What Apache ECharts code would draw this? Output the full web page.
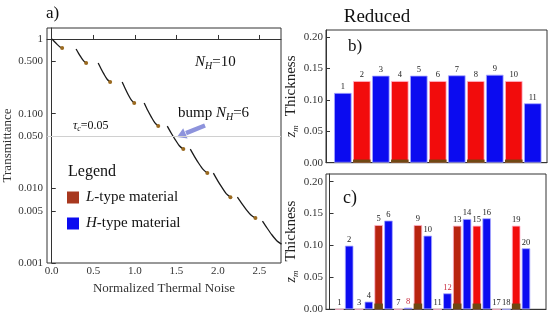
<!DOCTYPE html>
<html><head><meta charset="utf-8">
<script src="https://cdn.jsdelivr.net/npm/echarts@6/dist/echarts.min.js"></script>
<style>html,body{margin:0;padding:0;background:#fff}#c{width:550px;height:321px}</style>
</head><body><div id="c"></div>
<script>
const FONT = '"Liberation Serif", "DejaVu Serif", serif';

// ---- panel a) : transmittance vs normalized thermal noise, one list per curve segment
const segNoise = [
  [0.004, 0.034, 0.065, 0.095, 0.125],
  [0.293, 0.323, 0.354, 0.384, 0.414],
  [0.559, 0.595, 0.631, 0.667, 0.703],
  [0.848, 0.884, 0.921, 0.957, 0.993],
  [1.113, 1.155, 1.198, 1.240, 1.282],
  [1.391, 1.439, 1.488, 1.536, 1.584],
  [1.668, 1.719, 1.771, 1.822, 1.873],
  [1.946, 1.997, 2.049, 2.100, 2.151],
  [2.235, 2.289, 2.344, 2.398, 2.452],
  [2.537, 2.594, 2.652, 2.709, 2.766]
];
const segTrans = [
  [1.0, 0.917, 0.846, 0.789, 0.757],
  [0.734, 0.643, 0.566, 0.508, 0.476],
  [0.476, 0.397, 0.335, 0.289, 0.265],
  [0.265, 0.217, 0.179, 0.153, 0.139],
  [0.139, 0.111, 0.0906, 0.0759, 0.0682],
  [0.0682, 0.0547, 0.0446, 0.0372, 0.0335],
  [0.0335, 0.0266, 0.0215, 0.0179, 0.0160],
  [0.0160, 0.0127, 0.0103, 0.00851, 0.00762],
  [0.00762, 0.00624, 0.00516, 0.00440, 0.00399],
  [0.00363, 0.00292, 0.00237, 0.00199, 0.00179]
];
const tauC = 0.05;
const xTicksA = [0, 0.5, 1.0, 1.5, 2.0, 2.5];
const yTicksA = [0.001, 0.005, 0.01, 0.05, 0.1, 0.5, 1];
const yTickLabelsA = ['0.001', '0.005', '0.010', '0.050', '0.100', '0.500', '1'];

// ---- panel b) : reduced stack
const layersB = [1, 2, 3, 4, 5, 6, 7, 8, 9, 10, 11];
const thickB = [0.111, 0.130, 0.1385, 0.130, 0.1385, 0.130, 0.139, 0.130, 0.140, 0.130, 0.0945];
const typeB = ['H', 'L', 'H', 'L', 'H', 'L', 'H', 'L', 'H', 'L', 'H'];
const baseB = 0.005;

// ---- panel c)
const layersC = [1, 2, 3, 4, 5, 6, 7, 8, 9, 10, 11, 12, 13, 14, 15, 16, 17, 18, 19, 20];
const thickC = [0, 0.0997, 0, 0.012, 0.132, 0.139, 0, 0.0025, 0.132, 0.1154, 0, 0.025, 0.131, 0.1415, 0.131, 0.1426, 0, 0, 0.131, 0.0956];
const typeC = ['L', 'H', 'L', 'H', 'L', 'H', 'L', 'H', 'L', 'H', 'L', 'H', 'L', 'H', 'L', 'H', 'L', 'H', 'L', 'H'];
const baseC = 0.009;
const darkRedC = [5, 9, 13];
const redLabelC = [8, 12];

const thickTicks = [0, 0.05, 0.10, 0.15, 0.20];
const thickTickLabels = ['0.00', '0.05', '0.10', '0.15', '0.20'];

// ---- colours
const C_H = '#0b0bf0';
const C_L = '#f20c0c';
const C_LDARK = '#b8240f';
const C_BASE = '#6e4812';
const C_LEG_L = '#a8381f';
const AX = '#333';

const yTicksLog = yTicksA.map(v => Math.log10(v));

const lineSeries = segNoise.map((xs, k) => ({
  type: 'line', xAxisIndex: 0, yAxisIndex: 0, silent: true, clip: true,
  smooth: 0.25, showSymbol: true, showAllSymbol: true, symbol: 'circle', symbolSize: 4,
  lineStyle: { color: '#1a1a1a', width: 1.3 },
  itemStyle: { color: '#9a6a20' },
  data: xs.map((x, i) => {
    const p = [x, Math.log10(segTrans[k][i])];
    return i === xs.length - 1 ? { value: p } : { value: p, symbol: 'none' };
  }),
  markLine: k === 0 ? {
    silent: true, symbol: 'none', label: { show: false },
    lineStyle: { color: '#d0d0d0', width: 1, type: 'solid' },
    data: [{ yAxis: Math.log10(tauC) }]
  } : undefined
}));

function barSeries(grid, layers, thick, types, want, opts) {
  const data = [];
  layers.forEach((n, i) => {
    if (types[i] !== want) return;
    const item = { value: [n, thick[i]] };
    if (opts.dark && opts.dark.includes(n)) item.itemStyle = { color: C_LDARK };
    if (opts.redLabel && opts.redLabel.includes(n)) item.label = { color: '#c8283c' };
    data.push(item);
  });
  return {
    type: 'bar', name: want === 'H' ? 'H-type material' : 'L-type material',
    xAxisIndex: grid, yAxisIndex: grid, barWidth: opts.width, barGap: '-100%', silent: true,
    itemStyle: { color: want === 'H' ? C_H : C_L, borderColor: want === 'H' ? '#a8a8ff' : '#ffb4cc', borderWidth: 0.8 },
    label: { show: true, position: 'top', distance: 1.5, fontFamily: FONT, fontSize: 8.5, color: '#222',
      formatter: p => String(p.value[0]) },
    data
  };
}
function baseSeries(grid, layers, thick, types, h, width) {
  const data = [];
  layers.forEach((n, i) => { if (types[i] === 'L' && thick[i] > 0) data.push([n, h]); });
  return { type: 'bar', xAxisIndex: grid, yAxisIndex: grid, barWidth: width, barGap: '-100%', silent: true,
    itemStyle: { color: C_BASE }, data };
}

const tickLab = (vals, labels) => v => {
  const i = vals.findIndex(t => Math.abs(t - v) < 1e-6);
  return i >= 0 ? labels[i] : '';
};

const frame = { show: true, borderColor: AX, borderWidth: 1, containLabel: false, outerBoundsMode: 'none' };

function thickYAxis(grid, max) {
  return {
    gridIndex: grid, type: 'value', min: 0, max: max,
    name: '{z|z}{m|m}{g| }{t|Thickness}', nameLocation: 'middle', nameGap: 23,
    nameTextStyle: { rich: {
      z: { fontFamily: FONT, fontStyle: 'italic', fontSize: 14, color: '#222', lineHeight: 18 },
      m: { fontFamily: FONT, fontStyle: 'italic', fontSize: 9, color: '#222', verticalAlign: 'bottom', lineHeight: 9 },
      g: { width: 9, fontSize: 10 },
      t: { fontFamily: FONT, fontSize: 15, color: '#222', lineHeight: 18 }
    } },
    axisLine: { show: true, lineStyle: { color: AX } },
    axisTick: { show: true, inside: true, length: 4, customValues: thickTicks, lineStyle: { color: AX } },
    axisLabel: { customValues: thickTicks, formatter: tickLab(thickTicks, thickTickLabels),
      fontFamily: FONT, fontSize: 11, color: '#333', margin: 3 },
    splitLine: { show: false }
  };
}
function barXAxis(grid, min, max) {
  return { gridIndex: grid, type: 'value', min, max,
    axisLine: { show: true, lineStyle: { color: AX } }, axisTick: { show: false },
    axisLabel: { show: false }, splitLine: { show: false } };
}

const option = {
  animation: false,
  backgroundColor: '#fff',
  textStyle: { fontFamily: FONT },
  grid: [
    Object.assign({ left: 47, top: 28, width: 234, height: 235 }, frame),
    Object.assign({ left: 326, top: 30, width: 221, height: 132.7 }, frame),
    Object.assign({ left: 326, top: 174, width: 220, height: 135.3 }, frame)
  ],
  xAxis: [
    { gridIndex: 0, type: 'value', min: -0.057, max: 2.76,
      name: 'Normalized Thermal Noise', nameLocation: 'middle', nameGap: 17,
      nameTextStyle: { fontFamily: FONT, fontSize: 13, color: '#333' },
      axisLine: { show: true, lineStyle: { color: AX } },
      axisTick: { show: true, inside: true, length: 4, customValues: xTicksA, lineStyle: { color: AX } },
      axisLabel: { customValues: xTicksA, formatter: v => v.toFixed(1), fontFamily: FONT, fontSize: 11, color: '#333', margin: 3 },
      splitLine: { show: false } },
    barXAxis(1, 0.115, 11.75),
    barXAxis(2, -0.36, 22.04)
  ],
  yAxis: [
    { gridIndex: 0, type: 'value', min: -3, max: 0.147,
      name: 'Transmittance', nameLocation: 'middle', nameGap: 27,
      nameTextStyle: { fontFamily: FONT, fontSize: 13, color: '#333' },
      axisLine: { show: true, lineStyle: { color: AX } },
      axisTick: { show: true, inside: true, length: 4, customValues: yTicksLog, lineStyle: { color: AX } },
      axisLabel: { customValues: yTicksLog, formatter: tickLab(yTicksLog, yTickLabelsA), fontFamily: FONT, fontSize: 11, color: '#333', margin: 4 },
      splitLine: { show: false } },
    thickYAxis(1, 0.2112),
    thickYAxis(2, 0.212)
  ],
  legend: {
    orient: 'vertical', left: 67, top: 190, padding: 0, itemWidth: 12, itemHeight: 12, itemGap: 11,
    selectedMode: false, icon: 'rect',
    data: [
      { name: 'L-type material', itemStyle: { color: C_LEG_L, borderWidth: 0 } },
      { name: 'H-type material', itemStyle: { color: C_H, borderWidth: 0 } }
    ],
    formatter: n => (n.startsWith('L') ? '{i|L}' : '{i|H}') + '{t|-type material}',
    textStyle: { padding: [0, 0, 0, 2], rich: {
      i: { fontFamily: FONT, fontStyle: 'italic', fontSize: 15, color: '#111', lineHeight: 18 },
      t: { fontFamily: FONT, fontSize: 15, color: '#111', lineHeight: 18 }
    } }
  },
  graphic: [
    { type: 'text', x: 46, y: 14, silent: true, style: { text: 'a)', font: '17px ' + FONT, fill: '#111', verticalAlign: 'middle' } },
    { type: 'text', x: 377, y: 17, silent: true, style: { text: 'Reduced', font: '19px ' + FONT, fill: '#111', align: 'center', verticalAlign: 'middle' } },
    { type: 'text', x: 348, y: 47, silent: true, style: { text: 'b)', font: '17px ' + FONT, fill: '#111', verticalAlign: 'middle' } },
    { type: 'text', x: 343, y: 198, silent: true, style: { text: 'c)', font: '18px ' + FONT, fill: '#111', verticalAlign: 'middle' } },
    { type: 'text', x: 68, y: 172, silent: true, style: { text: 'Legend', font: '16px ' + FONT, fill: '#111', verticalAlign: 'middle' } },
    { type: 'text', x: 195, y: 62, silent: true, style: {
      text: '{i|N}{s|H}{t|=10}', verticalAlign: 'middle', rich: {
        i: { fontFamily: FONT, fontStyle: 'italic', fontSize: 15, fill: '#111', lineHeight: 18 },
        s: { fontFamily: FONT, fontStyle: 'italic', fontSize: 10, fill: '#111', verticalAlign: 'bottom', lineHeight: 10 },
        t: { fontFamily: FONT, fontSize: 15, fill: '#111', lineHeight: 18 } } } },
    { type: 'text', x: 178, y: 113, silent: true, style: {
      text: '{t|bump }{i|N}{s|H}{t|=6}', verticalAlign: 'middle', rich: {
        i: { fontFamily: FONT, fontStyle: 'italic', fontSize: 15, fill: '#111', lineHeight: 18 },
        s: { fontFamily: FONT, fontStyle: 'italic', fontSize: 10, fill: '#111', verticalAlign: 'bottom', lineHeight: 10 },
        t: { fontFamily: FONT, fontSize: 15, fill: '#111', lineHeight: 18 } } } },
    { type: 'text', x: 73, y: 126, silent: true, style: {
      text: '{i|τ}{s|c}{t|=0.05}', verticalAlign: 'middle', rich: {
        i: { fontFamily: FONT, fontStyle: 'italic', fontSize: 12, fill: '#111', lineHeight: 14 },
        s: { fontFamily: FONT, fontStyle: 'italic', fontSize: 8, fill: '#111', verticalAlign: 'bottom', lineHeight: 8 },
        t: { fontFamily: FONT, fontSize: 12, fill: '#111', lineHeight: 14 } } } },
    { type: 'polyline', silent: true, shape: { points: [[205, 125.5], [186, 133.2]] },
      style: { stroke: '#8d93dc', lineWidth: 4.5, fill: null } },
    { type: 'polygon', silent: true, shape: { points: [[177, 137], [187.6, 138.6], [183.2, 128.2]] },
      style: { fill: '#8d93dc' } }
  ],
  series: [
    ...lineSeries,
    barSeries(1, layersB, thickB, typeB, 'H', { width: 17.5 }),
    barSeries(1, layersB, thickB, typeB, 'L', { width: 17.5 }),
    baseSeries(1, layersB, thickB, typeB, baseB, 17.5),
    barSeries(2, layersC, thickC, typeC, 'H', { width: 8.5, redLabel: redLabelC }),
    barSeries(2, layersC, thickC, typeC, 'L', { width: 8.5, dark: darkRedC, redLabel: redLabelC }),
    baseSeries(2, layersC, thickC, typeC, baseC, 8.5)
  ]
};

const chart = echarts.init(document.getElementById('c'), null, { renderer: 'canvas' });
chart.setOption(option);
</script>
</body></html>
